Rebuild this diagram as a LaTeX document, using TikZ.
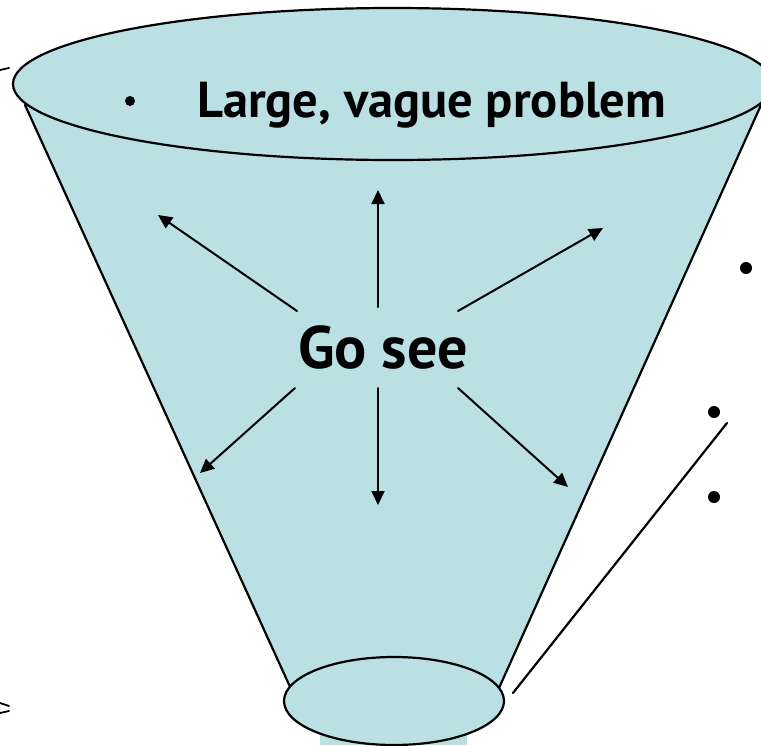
\documentclass[tikz,border=0pt]{standalone}
\usepackage{fontspec}
\setmainfont{PT Sans}
\usetikzlibrary{arrows.meta}
\definecolor{funnelblue}{RGB}{187,224,227}
\begin{document}
\begin{tikzpicture}[x=1pt, y=-1pt, line join=round, line cap=round, >={Triangle[length=14pt,width=13pt]}]
	\tikzset{rim/.style={fill=funnelblue, draw=black, line width=2.2pt},
		arr/.style={->, line width=2pt},
		dot/.style={circle, fill=black, inner sep=0pt, minimum size=#1}}
	\useasboundingbox (0,0) rectangle (761,745);
	\clip (0,0) rectangle (761,745);
	% body and stem of the funnel
	\fill[funnelblue] (25,105) -- (761,105) -- (499,688) -- (291,689) -- cycle;
	\fill[funnelblue] (320,700) rectangle (467,745);
	\draw[line width=2.2pt] (25,105) -- (291,689) (761,105) -- (499,688);
	\draw[rim] (393,84) ellipse [x radius=380, y radius=76];
	\draw[rim] (394,701) ellipse [x radius=110, y radius=44];
	% texts
	\node[dot=10pt] (b0) at (130,101) {};
	\node[anchor=base west, inner sep=0pt, font=\bfseries\fontsize{50.5}{54}\selectfont] (problem) at (197,117) {Large, vague problem};
	\node[inner sep=0pt, font=\bfseries\fontsize{60}{64}\selectfont] (gosee) at (383,347) {Go see};
	\foreach \a/\b/\c/\d in {-5/-40/-5/-157, -5/41/-5/158, -86/-36/-225/-132, 75/-36/220/-119, -88/41/-183/126, 75/41/185/140}
		\draw[arr] ([shift={(\a,\b)}]gosee.center) -- ([shift={(\c,\d)}]gosee.center);
	% bullets and line on the right
	\node[dot=12pt] (b1) at (746,268) {};
	\node[dot=12pt] (b2) at (714,412) {};
	\node[dot=12pt] (b3) at (714,497) {};
	\coordinate (lineA) at (513,693);
	\coordinate (lineB) at (727,423);
	\draw[line width=2.2pt] (lineA) -- (lineB);
	% marks cut off at the left edge
	\draw[line width=1.8pt] (0,70) -- (9,68);
	\draw[line width=1.8pt] (0,703) -- (9,706) (0,713) -- (9,711);
\end{tikzpicture}
\end{document}
